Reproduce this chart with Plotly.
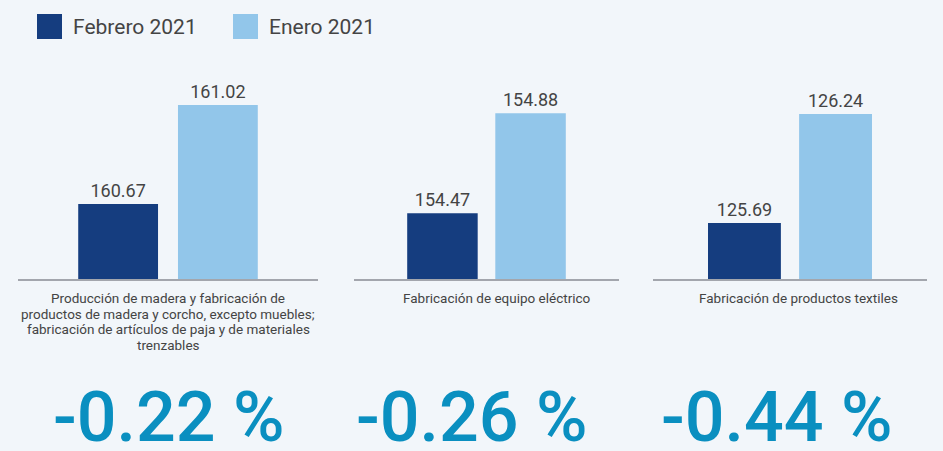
import plotly.graph_objects as go

categories = [
    "Producción de madera y fabricación de<br>productos de madera y corcho, excepto muebles;<br>fabricación de artículos de paja y de materiales<br>trenzables",
    "Fabricación de equipo eléctrico",
    "Fabricación de productos textiles",
]
series_names = ["Febrero 2021", "Enero 2021"]
febrero = [160.67, 154.47, 125.69]
enero = [161.02, 154.88, 126.24]
colors = ["#153D7F", "#92C6EA"]

W, H = 943, 451
BG = "#F2F6FA"
TXT = "#444444"
FONT = "Roboto, 'Noto Sans', sans-serif"

x_domains = [(18, 318), (354, 619), (653, 927)]
label_shift = [0, 10, 8]
y_ranges = [(160.405, 161.179), (154.20, 155.098), (125.407, 126.513)]
y_bottom_px, y_top_px = 279, 60

fig = go.Figure()
layout = {}
annotations = []
for i, cat in enumerate(categories):
    sfx = "" if i == 0 else str(i + 1)
    for name, vals, col in zip(series_names, [febrero, enero], colors):
        fig.add_trace(go.Bar(
            x=[cat], y=[vals[i]], name=name,
            marker=dict(color=col, line=dict(width=0)),
            text=[f"{vals[i]:.2f}"], textposition="outside",
            textfont=dict(size=18, color=TXT, family=FONT),
            cliponaxis=False, showlegend=False,
            xaxis="x" + sfx, yaxis="y" + sfx,
        ))
    x0, x1 = x_domains[i]
    layout["xaxis" + sfx] = dict(
        domain=[x0 / W, x1 / W], anchor="y" + sfx,
        showline=True, linecolor="#A3A6AD", linewidth=2,
        showgrid=False, zeroline=False, ticks="", showticklabels=False,
        fixedrange=True,
    )
    layout["yaxis" + sfx] = dict(
        domain=[1 - y_bottom_px / H, 1 - y_top_px / H], anchor="x" + sfx,
        range=list(y_ranges[i]), visible=False, showgrid=False,
        zeroline=False, fixedrange=True,
    )
    # category label, one line per annotation (tight line spacing)
    for j, line in enumerate(cat.split("<br>")):
        annotations.append(dict(
            x=cat, xref="x" + sfx, y=1 - (298 + 15.5 * j) / H, yref="paper",
            xshift=label_shift[i],
            text=line, showarrow=False, xanchor="center", yanchor="middle",
            font=dict(size=13.5, color=TXT, family=FONT),
        ))

# percentage changes computed from the data
centers = [169, 472, 777]
for i in range(3):
    pct = (febrero[i] / enero[i] - 1) * 100
    annotations.append(dict(
        x=centers[i] / W, y=1 - 417 / H, xref="paper", yref="paper",
        text=f"{pct:.2f} %", showarrow=False, xanchor="center", yanchor="middle",
        height=62, valign="middle",
        font=dict(size=70, color="#0A8FC0", weight=500, family=FONT),
    ))

# legend drawn manually (large square swatches)
shapes = []
leg_x = [37, 233]
for name, col, lx in zip(series_names, colors, leg_x):
    shapes.append(dict(type="rect", xref="paper", yref="paper",
                       x0=lx / W, x1=(lx + 25) / W, y0=1 - 39 / H, y1=1 - 14 / H,
                       fillcolor=col, line=dict(width=0)))
    annotations.append(dict(
        x=(lx + 34) / W, y=1 - 27 / H, xref="paper", yref="paper",
        text=name, showarrow=False, xanchor="left", yanchor="middle",
        font=dict(size=21, color=TXT, family=FONT),
    ))

fig.update_layout(
    width=W, height=H,
    margin=dict(l=0, r=0, t=0, b=0),
    paper_bgcolor=BG, plot_bgcolor=BG,
    barmode="group", bargap=0.335, bargroupgap=0.2,
    showlegend=False,
    annotations=annotations, shapes=shapes,
    font=dict(family=FONT, color=TXT),
    **layout,
)

fig.write_html(
    "out.html",
    config={"displayModeBar": False},
    post_script="document.body.style.margin='0';document.body.style.background='#F2F6FA';",
)
